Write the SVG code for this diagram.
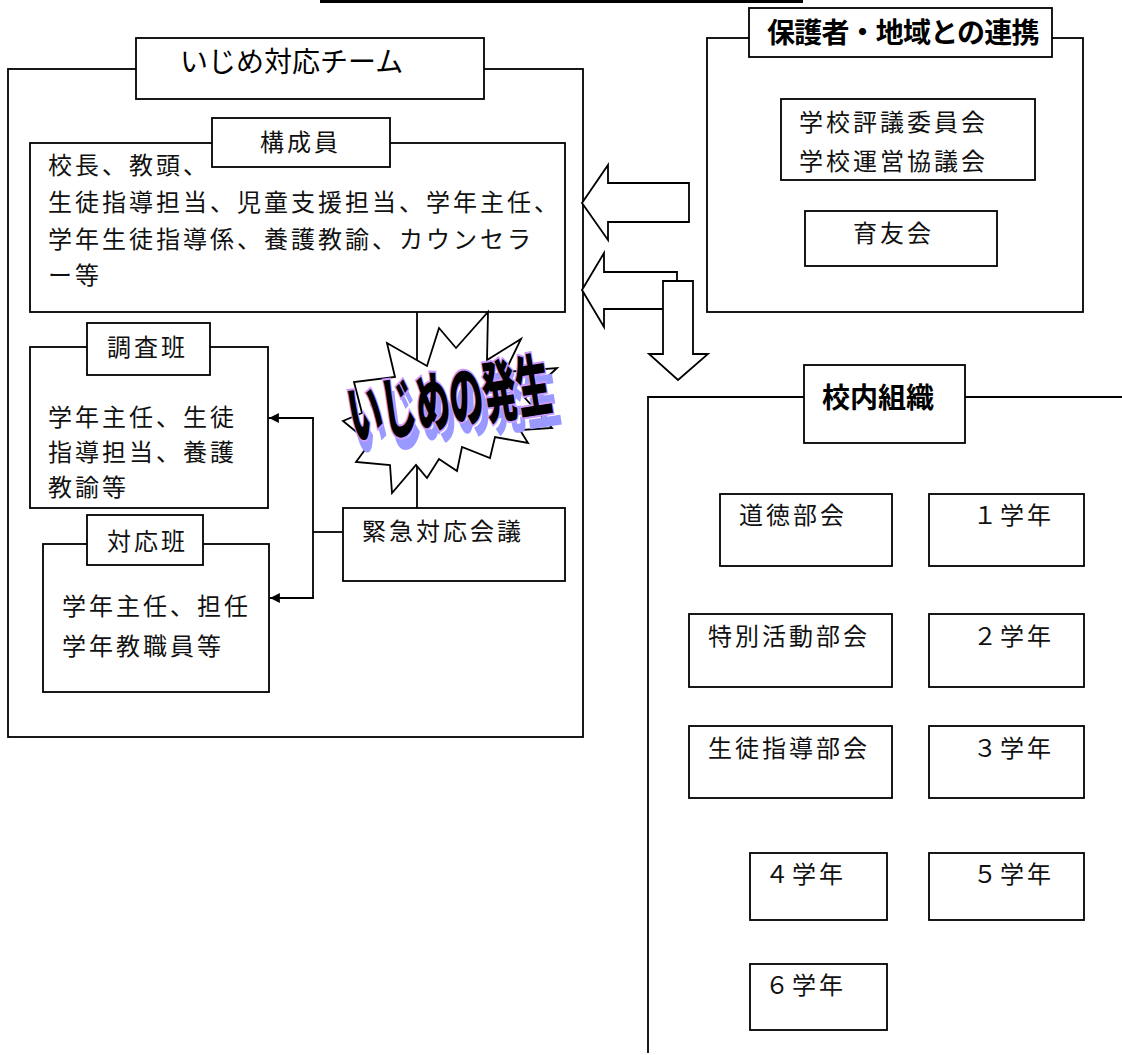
<svg xmlns="http://www.w3.org/2000/svg" width="1122" height="1055" viewBox="0 0 1122 1055">
<defs>
<style>
.b{fill:#fff;stroke:#000;stroke-width:1.8}
.ln{fill:none;stroke:#000;stroke-width:1.8}
.t{font-family:"Noto Sans CJK JP","Noto Sans CJK SC",sans-serif;font-size:24px;letter-spacing:3px;fill:#111}
.h{font-family:"Noto Sans CJK JP","Noto Sans CJK SC",sans-serif;font-size:28px;fill:#000}
.hb{font-family:"Noto Sans CJK JP","Noto Sans CJK SC",sans-serif;font-size:28px;font-weight:bold;fill:#000}
.wa{font-family:"Noto Sans CJK JP","Noto Sans CJK SC",sans-serif;font-size:50px;font-weight:900}
</style>
<marker id="ah" viewBox="0 0 10 10" refX="10" refY="5" markerWidth="5.5" markerHeight="5.5" orient="auto">
<path d="M0,0 L10,5 L0,10 z" fill="#000"/>
</marker>
</defs>
<rect width="1122" height="1055" fill="#fff"/>
<line x1="320" y1="1.5" x2="803" y2="1.5" stroke="#000" stroke-width="3"/>

<g id="team">
<rect class="b" x="8" y="69" width="575" height="668"/>
<rect class="b" x="136" y="38" width="348" height="61"/>
<text class="h" x="180" y="72">いじめ対応チーム</text>
</g>

<g id="members">
<rect class="b" x="30" y="143" width="535" height="169"/>
<rect class="b" x="212" y="118" width="178" height="49"/>
<text class="t" x="260" y="151" letter-spacing="2">構成員</text>
<text class="t" x="48" y="174" letter-spacing="2.5">校長、教頭、</text>
<text class="t" x="48" y="211" letter-spacing="2.6">生徒指導担当、児童支援担当、学年主任、</text>
<text class="t" x="48" y="248" letter-spacing="3.8">学年生徒指導係、養護教諭、カウンセラ</text>
<text class="t" x="48" y="284">ー等</text>
</g>

<g id="connectors">
<line class="ln" x1="417" y1="312" x2="417" y2="508"/>
<line class="ln" x1="342" y1="532" x2="313" y2="532"/>
<line class="ln" x1="313" y1="418" x2="313" y2="598"/>
<line class="ln" x1="314" y1="418" x2="269" y2="418" marker-end="url(#ah)"/>
<line class="ln" x1="314" y1="598" x2="270" y2="598" marker-end="url(#ah)"/>
<polygon class="b" points="582,203 608,165 608,183 689,183 689,222 608,222 608,240"/>
<polygon class="b" points="582,290 604,253 604,272 677,272 677,309 604,309 604,327"/>
<polygon class="b" points="663,281 693,281 693,354 708,354 678,380 649,354 663,354"/>
</g>

<g id="survey">
<rect class="b" x="30" y="347" width="238" height="161"/>
<rect class="b" x="87" y="323" width="123" height="52"/>
<text class="t" x="107" y="356">調査班</text>
<text class="t" x="48" y="426" letter-spacing="5">学年主任、生徒</text>
<text class="t" x="48" y="461" letter-spacing="5">指導担当、養護</text>
<text class="t" x="48" y="496" letter-spacing="5">教諭等</text>
</g>

<g id="response">
<rect class="b" x="43" y="544" width="226" height="148"/>
<rect class="b" x="87" y="515" width="116" height="50"/>
<text class="t" x="107" y="550">対応班</text>
<text class="t" x="62" y="615">学年主任、担任</text>
<text class="t" x="62" y="655">学年教職員等</text>
</g>

<g id="burst">
<polygon class="b" points="488,312 487,360 521,339 505,372 557,368 525,398 552,428 520,430 528,443 495,437 490,458 462,447 457,471 439,459 427,478 416,465 392,493 390,465 356,462 370,443 343,421 362,413 354,382 395,377 387,343 427,366 439,328 456,348"/>
<g transform="translate(459,436) rotate(-9) scale(0.7,1.38)">
<text class="wa" x="0" y="0" text-anchor="middle" fill="#9999ff">いじめの発生</text>
</g>
<g transform="translate(453,424) rotate(-9) scale(0.68,1.35)">
<text class="wa" x="0" y="0" text-anchor="middle" fill="#000" stroke="#cc99ff" stroke-width="3" paint-order="stroke">いじめの発生</text>
</g>
</g>

<g id="emergency">
<rect class="b" x="343" y="508" width="222" height="73"/>
<text class="t" x="362" y="540" letter-spacing="3.5">緊急対応会議</text>
</g>

<g id="community">
<rect class="b" x="707" y="38" width="376" height="274"/>
<rect class="b" x="749" y="8" width="303" height="49"/>
<text class="hb" x="767" y="43" font-size="27" letter-spacing="-0.8">保護者・地域との連携</text>
<rect class="b" x="781" y="99" width="254" height="81"/>
<text class="t" x="799" y="131" letter-spacing="3.7">学校評議委員会</text>
<text class="t" x="799" y="170" letter-spacing="3.7">学校運営協議会</text>
<rect class="b" x="805" y="211" width="192" height="55"/>
<text class="t" x="853" y="242">育友会</text>
</g>

<g id="school">
<polyline class="ln" points="1122,397 648,397 648,1053"/>
<rect class="b" x="804" y="365" width="161" height="78"/>
<text class="hb" x="822" y="408">校内組織</text>
</g>

<g id="dept1"><rect class="b" x="720" y="494" width="172" height="72"/><text class="t" x="739" y="524">道徳部会</text></g>
<g id="grade1"><rect class="b" x="929" y="494" width="155" height="72"/><text class="t" x="973" y="524">１学年</text></g>
<g id="dept2"><rect class="b" x="689" y="614" width="203" height="73"/><text class="t" x="708" y="645">特別活動部会</text></g>
<g id="grade2"><rect class="b" x="929" y="614" width="155" height="73"/><text class="t" x="973" y="645">２学年</text></g>
<g id="dept3"><rect class="b" x="689" y="726" width="203" height="72"/><text class="t" x="708" y="757">生徒指導部会</text></g>
<g id="grade3"><rect class="b" x="929" y="726" width="155" height="72"/><text class="t" x="973" y="757">３学年</text></g>
<g id="grade4"><rect class="b" x="750" y="853" width="137" height="67"/><text class="t" x="765" y="883">４学年</text></g>
<g id="grade5"><rect class="b" x="929" y="853" width="155" height="67"/><text class="t" x="973" y="883">５学年</text></g>
<g id="grade6"><rect class="b" x="750" y="964" width="137" height="66"/><text class="t" x="765" y="994">６学年</text></g>
</svg>
